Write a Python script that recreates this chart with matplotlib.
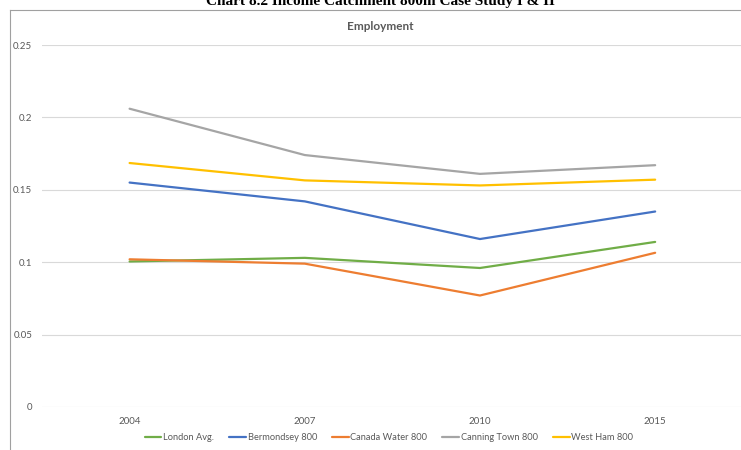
import matplotlib.pyplot as plt
from matplotlib.lines import Line2D

plt.rcParams['font.family'] = ['Lato', 'DejaVu Sans']

# ---------------- dados ----------------
anos = ['2004', '2007', '2010', '2015']
london_avg = [0.1005, 0.103, 0.096, 0.114]
bermondsey = [0.155, 0.142, 0.116, 0.135]
canada_water = [0.102, 0.099, 0.077, 0.1065]
canning_town = [0.206, 0.174, 0.161, 0.167]
west_ham = [0.1685, 0.1565, 0.153, 0.157]

series = [
    ('London Avg.', london_avg, '#70AD47'),
    ('Bermondsey 800', bermondsey, '#4472C4'),
    ('Canada Water 800', canada_water, '#ED7D31'),
    ('Canning Town 800', canning_town, '#A5A5A5'),
    ('West Ham 800', west_ham, '#FFC000'),
]

cinza = '#595959'

fig = plt.figure(figsize=(7.41, 4.5), dpi=100)
ax = fig.add_axes([42 / 741, 1 - 407 / 450, 699 / 741, 362 / 450])

x = range(len(anos))
for nome, vals, cor in series:
    ax.plot(x, vals, color=cor, lw=1.6, label=nome, solid_capstyle='round')

ax.set_xlim(-0.5, 3.49)
ax.set_ylim(0, 0.25)
ax.set_yticks([0, 0.05, 0.1, 0.15, 0.2, 0.25])
ax.set_yticklabels(['0', '0.05', '0.1', '0.15', '0.2', '0.25'])
ax.set_xticks(list(x))
ax.set_xticklabels(anos)
ax.tick_params(axis='both', length=0, labelsize=7, colors=cinza)
ax.tick_params(axis='y', pad=7)
ax.tick_params(axis='x', pad=7)
for s in ax.spines.values():
    s.set_visible(False)
ax.grid(axis='y', color='#D9D9D9', lw=0.8)
ax.set_axisbelow(True)

# moldura do gráfico (topo e esquerda)
fig.add_artist(Line2D([10 / 741, 10 / 741], [0, 1 - 10 / 450], color='#A0A0A0', lw=0.8))
fig.add_artist(Line2D([10 / 741, 1], [1 - 10 / 450, 1 - 10 / 450], color='#A0A0A0', lw=0.8))

# título de cima aparece cortado no original
fig.text(380 / 741, 1 - 5 / 450, 'Chart 8.2 Income Catchment 800m Case Study I & II',
         family='Liberation Serif', weight='bold', fontsize=11, ha='center', va='baseline')
fig.text(380 / 741, 1 - 27 / 450, 'Employment', fontsize=8.5, color=cinza,
         weight='bold', ha='center', va='center')

ax.legend(loc='center', bbox_to_anchor=(389 / 741, 1 - 438 / 450), bbox_transform=fig.transFigure,
          ncol=5, frameon=False, fontsize=6.7, handlelength=1.8, handletextpad=0.2,
          columnspacing=1.6, labelcolor=cinza)

fig.savefig('out.png', dpi=100)
